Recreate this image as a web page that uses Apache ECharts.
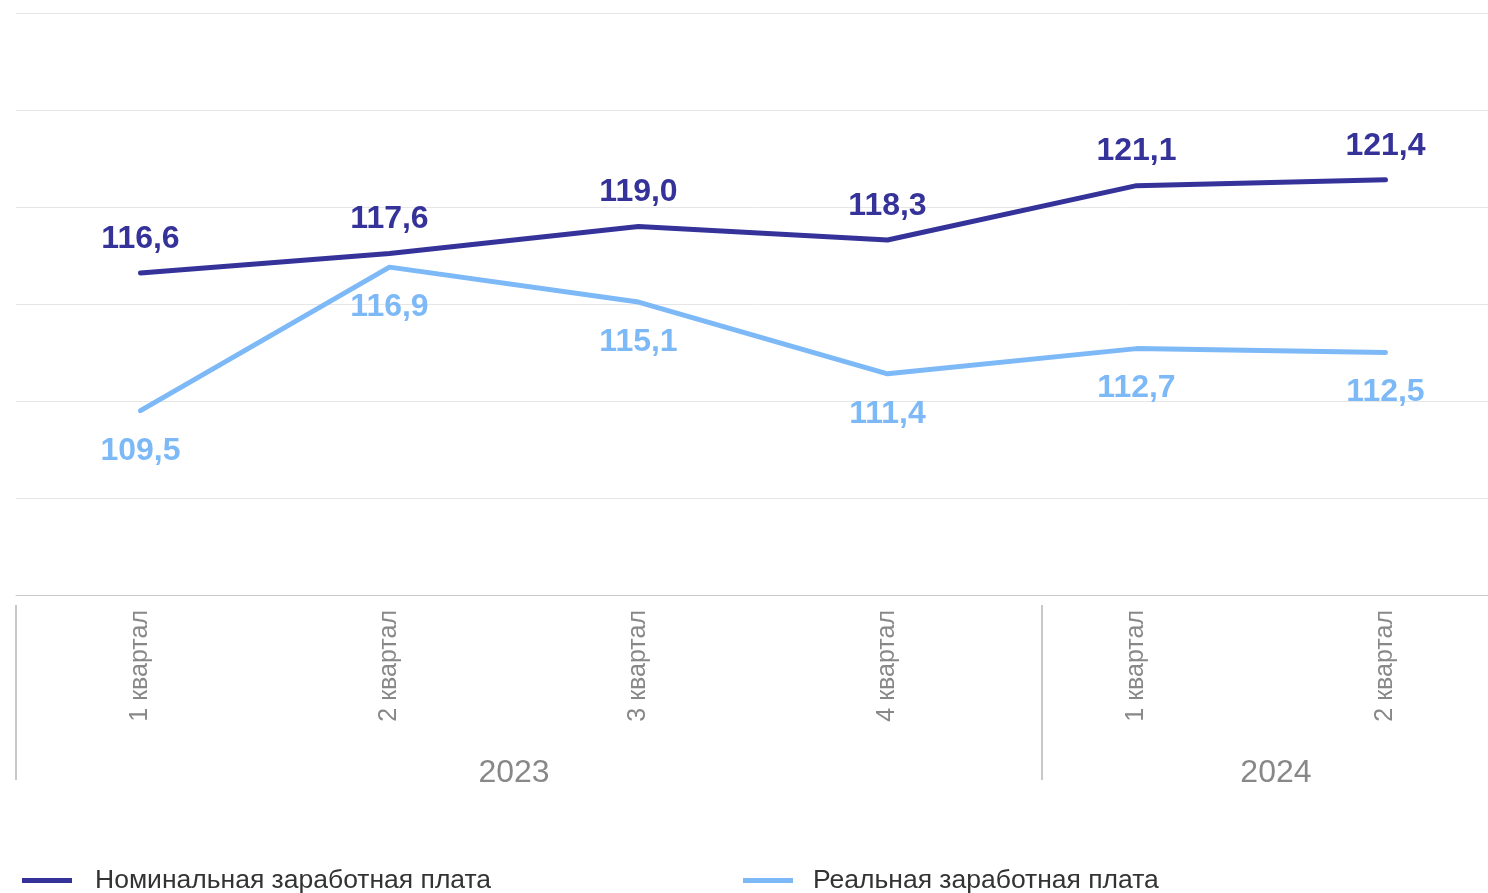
<!DOCTYPE html>
<html>
<head>
<meta charset="utf-8">
<script src="https://cdn.jsdelivr.net/npm/echarts@6/dist/echarts.min.js"></script>
<style>
    html, body { margin: 0; padding: 0; background: #fff; }
    #chart { width: 1488px; height: 893px; }
</style>
</head>
<body>
<div id="chart"></div>
<script>
// категории (кварталы) и годы
const quarters = ['1 квартал', '2 квартал', '3 квартал', '4 квартал', '1 квартал', '2 квартал']
const yearLabels = ['2023', '2024']
const yearLabelPos = [2, 5.06]
const yearBreaks = [0, 4.12]

// значения, % к соответствующему периоду
const nominalName = 'Номинальная заработная плата'
const realName = 'Реальная заработная плата'
const nominal = [116.6, 117.6, 119.0, 118.3, 121.1, 121.4]
const real = [109.5, 116.9, 115.1, 111.4, 112.7, 112.5]

const ff = '"Liberation Sans", Arial, sans-serif'
const nominalColor = '#35339a'
const realColor = '#7db9f7'

const fmt = (p) => p.value.toFixed(1).replace('.', ',')

const chart = echarts.init(document.getElementById('chart'))
chart.setOption({
    animation: false,
    textStyle: { fontFamily: ff },
    grid: { left: 16, top: 13, width: 1494, bottom: 298, outerBoundsMode: 'none', containLabel: false },
    legend: [
        {
            left: 17, top: 862,
            itemWidth: 50, itemHeight: 5, icon: 'rect',
            textStyle: { fontFamily: ff, fontSize: 26.5, color: '#333', padding: [0, 0, 0, 18] },
            data: [nominalName],
        },
        {
            left: 738, top: 862,
            itemWidth: 50, itemHeight: 5, icon: 'rect',
            textStyle: { fontFamily: ff, fontSize: 26.5, color: '#333', padding: [0, 0, 0, 15] },
            data: [realName],
        },
    ],
    xAxis: [
        {
            type: 'category',
            data: quarters,
            boundaryGap: true,
            axisLine: { lineStyle: { color: '#c8c8c8', width: 1 } },
            axisTick: { show: false },
            axisLabel: { rotate: 90, margin: 15, fontFamily: ff, fontSize: 25, color: '#888' },
        },
        {
            type: 'value',
            min: 0,
            max: 6,
            position: 'bottom',
            offset: 10,
            axisLine: { show: false },
            splitLine: { show: false },
            axisTick: {
                show: true,
                customValues: yearBreaks,
                length: 175,
                lineStyle: { color: '#c8c8c8', width: 2 },
            },
            axisLabel: {
                customValues: yearLabelPos,
                formatter: (v) => yearLabels[yearLabelPos.indexOf(v)] ?? '',
                margin: 152,
                fontFamily: ff,
                fontSize: 32,
                color: '#888',
            },
        },
    ],
    yAxis: {
        type: 'value',
        min: 100,
        max: 130,
        interval: 5,
        axisLabel: { show: false },
        axisLine: { show: false },
        axisTick: { show: false },
        splitLine: { lineStyle: { color: '#e6e6e6' } },
    },
    series: [
        {
            name: nominalName,
            type: 'line',
            data: nominal,
            color: nominalColor,
            symbol: 'circle',
            symbolSize: 0,
            showSymbol: true,
            lineStyle: { width: 5, cap: 'round', join: 'round' },
            label: {
                show: true, position: 'top', distance: 18,
                fontFamily: ff, fontSize: 32, fontWeight: 'bold', color: nominalColor,
                formatter: fmt,
            },
        },
        {
            name: realName,
            type: 'line',
            data: real,
            color: realColor,
            symbol: 'circle',
            symbolSize: 0,
            showSymbol: true,
            lineStyle: { width: 5, cap: 'round', join: 'round' },
            label: {
                show: true, position: 'bottom', distance: 24,
                fontFamily: ff, fontSize: 32, fontWeight: 'bold', color: realColor,
                formatter: fmt,
            },
        },
    ],
})

window.addEventListener('resize', () => chart.resize())
</script>
</body>
</html>
